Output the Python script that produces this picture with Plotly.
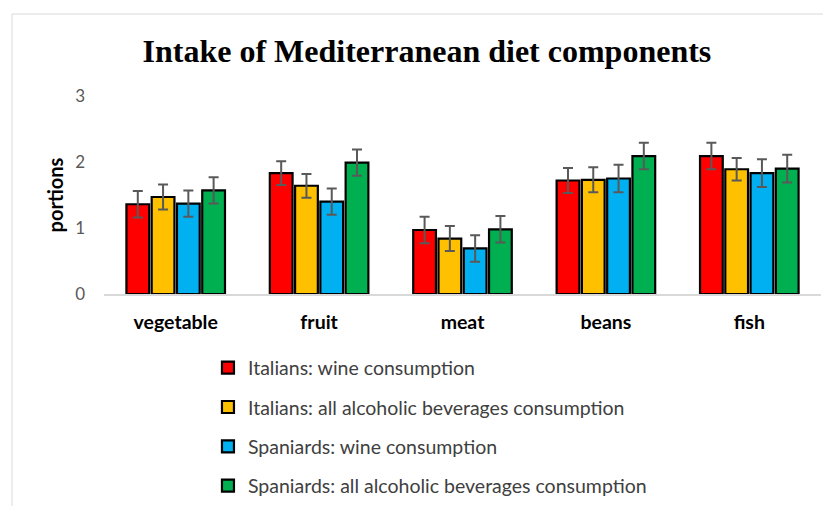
import plotly.graph_objects as go

categories = ["vegetable", "fruit", "meat", "beans", "fish"]
series_names = [
    "Italians: wine consumption",
    "Italians: all alcoholic beverages consumption",
    "Spaniards: wine consumption",
    "Spaniards: all alcoholic beverages consumption",
]
it_wine = [1.36, 1.83, 0.97, 1.72, 2.09]
it_all = [1.47, 1.64, 0.84, 1.73, 1.89]
sp_wine = [1.37, 1.40, 0.69, 1.75, 1.83]
sp_all = [1.57, 1.99, 0.98, 2.09, 1.90]
it_wine_err = [0.20, 0.18, 0.20, 0.19, 0.20]
it_all_err = [0.19, 0.18, 0.19, 0.19, 0.17]
sp_wine_err = [0.20, 0.20, 0.20, 0.21, 0.21]
sp_all_err = [0.20, 0.20, 0.20, 0.20, 0.21]
colors = ["#FF0000", "#FFC000", "#00B0F0", "#00B050"]

values = [it_wine, it_all, sp_wine, sp_all]
errors = [it_wine_err, it_all_err, sp_wine_err, sp_all_err]

fig = go.Figure()
for i, (name, v, e, c) in enumerate(zip(series_names, values, errors, colors)):
    fig.add_trace(go.Bar(
        name=name, x=categories, y=v,
        marker=dict(color=c, line=dict(color="#000000", width=2.2)),
        error_y=dict(type="data", array=e, visible=True, color="#595959", thickness=2, width=5),
        legendgroup=f"g{i}",
    ))

fig.update_layout(
    width=823, height=498,
    margin=dict(l=96, r=10, t=88, b=212, autoexpand=False),
    paper_bgcolor="white", plot_bgcolor="white",
    barmode="group", bargap=0.295, bargroupgap=0.1,
    title=dict(text="<b>Intake of Mediterranean diet components</b>",
               font=dict(family="Liberation Serif", size=32, color="#000000"),
               x=0.509, xref="container", xanchor="center", y=0.9137, yref="container", yanchor="middle"),
    font=dict(family="Lato", color="#404040"),
    showlegend=True,
    legend=dict(x=0.145, xanchor="left", y=-0.275, yanchor="top",
                font=dict(family="Lato", size=19.5, color="#404040"),
                tracegroupgap=11, bgcolor="rgba(0,0,0,0)"),
    xaxis=dict(showline=True, linecolor="#d9d9d9", linewidth=1.5, showgrid=False, automargin=False,
               ticks="", tickfont=dict(family="Lato", size=19.5, color="#000000", weight="bold"),
               ticklabelstandoff=10),
    yaxis=dict(range=[0, 3], tickvals=[0, 1, 2, 3], showline=False, showgrid=False, automargin=False,
               zeroline=False, ticks="",
               tickfont=dict(family="Lato", size=17, color="#595959"),
               ticklabelstandoff=18,
               title=dict(text="<b>portions</b>", font=dict(family="Lato", size=20, color="#000000"),
                          standoff=6)),
    shapes=[dict(type="rect", xref="paper", yref="paper",
                 x0=-0.1283, x1=1.1, y0=-1.5, y1=1.414,
                 line=dict(color="#d9d9d9", width=1), fillcolor="rgba(0,0,0,0)", layer="below")],
)

fig.write_html("out.html")
